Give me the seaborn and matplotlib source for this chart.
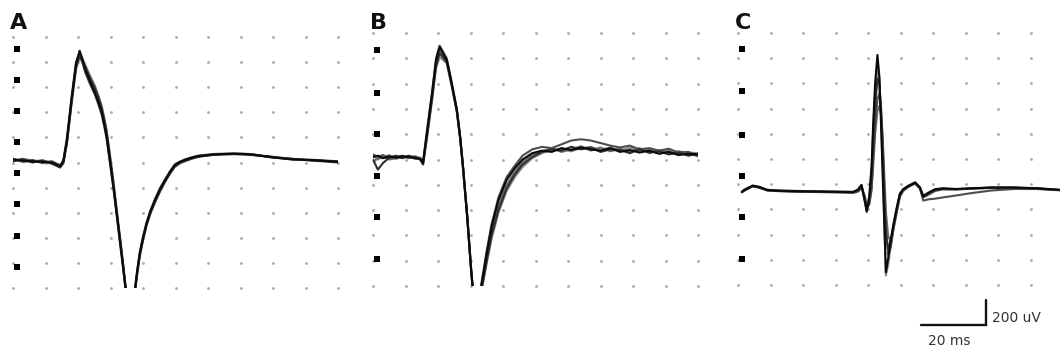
import numpy as np
import pandas as pd
import matplotlib
matplotlib.use("Agg")
import matplotlib.pyplot as plt
import seaborn as sns

sns.set_style("white")
plt.rcParams['font.family'] = ['DejaVu Sans']

# --- traces: time in ms, amplitude in uV ---
t_a = [0, 3, 6, 9, 12, 14.5, 15.5, 16.6, 18.1, 19.4, 20.5, 21.3, 22.2, 23.7, 25.2, 26.3,
       27.3, 28.1, 28.8, 29.8, 30.9, 31.9, 32.9, 33.9, 34.7, 35.6, 36.6, 37.5, 38.2, 39,
       40, 41.1, 42.3, 43.7, 45.2, 46.8, 48.3, 49.8, 51.5, 53, 55, 57, 59.5, 62, 65, 68,
       71, 74, 80, 86, 92, 100]
a1 = [25, 15, 10, 5, 0, -30, 10, 180, 520, 790, 890, 830, 740, 645, 556, 480, 396, 300,
      206, 20, -194, -406, -620, -834, -1020, -1150, -1150, -1020, -870, -727, -600, -487,
      -390, -300, -215, -140, -75, -20, 5, 22, 38, 50, 58, 65, 68, 70, 68, 62, 40, 25, 20, 5]
a2 = [10, 25, 0, 15, -10, -40, -5, 160, 500, 760, 850, 815, 760, 670, 590, 515, 430, 335,
      240, 50, -170, -390, -600, -820, -1010, -1140, -1160, -1030, -885, -740, -615, -495,
      -400, -310, -225, -150, -85, -30, 0, 15, 32, 45, 55, 62, 66, 68, 66, 60, 45, 28, 18, 8]
a3 = [30, 5, 20, -5, 10, -25, 20, 200, 540, 800, 870, 800, 720, 625, 540, 460, 380, 285,
      190, 0, -210, -420, -640, -850, -1030, -1160, -1140, -1010, -860, -715, -590, -475,
      -380, -290, -205, -135, -70, -15, 10, 25, 42, 55, 62, 68, 70, 72, 70, 65, 38, 30, 15, 0]
a4 = [15, 30, 15, 10, 5, -20, 5, 170, 510, 770, 860, 830, 780, 690, 610, 530, 450, 355,
      260, 70, -150, -370, -590, -810, -1000, -1130, -1150, -1040, -895, -750, -620, -500,
      -405, -320, -235, -155, -90, -35, -5, 10, 30, 48, 55, 60, 64, 66, 63, 58, 42, 22, 22, 10]
a5 = [20, 10, 5, 20, -5, -35, 0, 150, 480, 740, 840, 800, 750, 660, 575, 495, 410, 320,
      225, 35, -180, -400, -610, -830, -1015, -1145, -1155, -1025, -880, -735, -610, -490,
      -395, -305, -220, -145, -80, -25, 3, 18, 36, 52, 58, 64, 67, 70, 67, 63, 44, 26, 16, 6]

t_b = [0, 1.5, 3, 5, 7, 9, 11, 13, 14.5, 15.4, 16.6, 18.2, 19.4, 20.5, 22.7, 24.2, 25.8,
       26.8, 27.6, 28.3, 29, 29.6, 30.2, 30.8, 31.8, 32.8, 33.6, 35, 36.5, 38.6, 41.1, 43.6,
       46, 49, 52, 55, 58, 61, 64, 67, 70, 73, 76, 79, 82, 85, 88, 91, 94, 97, 100]
b1 = [20, 30, 10, 25, 15, 25, 20, 10, 5, -25, 210, 525, 786, 890, 786, 602, 391, 180, -30,
      -241, -452, -662, -873, -1050, -1150, -1080, -960, -741, -531, -320, -162, -70, 0, 50,
      70, 60, 90, 75, 95, 80, 70, 90, 60, 75, 55, 70, 45, 60, 35, 45, 40]
b2 = [0, -80, -30, 15, 30, 10, 30, 15, 0, -40, 180, 490, 740, 840, 770, 590, 380, 170, -40,
      -250, -460, -670, -880, -1050, -1160, -1100, -1000, -800, -600, -400, -230, -120, -40,
      20, 60, 80, 70, 100, 80, 95, 60, 80, 75, 50, 80, 55, 65, 40, 55, 30, 45]
b3 = [40, 20, 35, 10, 20, 30, 15, 25, 10, -15, 230, 540, 800, 900, 800, 615, 400, 190, -20,
      -230, -440, -650, -860, -1040, -1140, -1070, -940, -720, -510, -300, -140, -50, 30, 80,
      100, 90, 120, 150, 160, 150, 130, 110, 95, 110, 80, 90, 70, 85, 55, 60, 30]
b4 = [-20, 10, 25, 0, 10, 15, 25, 5, 15, -30, 190, 500, 760, 860, 780, 595, 385, 175, -35,
      -245, -455, -665, -875, -1055, -1155, -1090, -980, -770, -565, -360, -200, -100, -20,
      40, 65, 90, 60, 80, 105, 70, 95, 65, 85, 60, 90, 50, 75, 45, 65, 50, 25]
b5 = [30, 0, 20, 35, 5, 20, 10, 20, 0, -35, 170, 470, 720, 810, 760, 580, 375, 165, -45,
      -255, -465, -675, -885, -1060, -1165, -1110, -1010, -820, -625, -420, -250, -140, -60,
      10, 50, 75, 85, 65, 90, 100, 75, 95, 70, 95, 65, 80, 60, 70, 40, 55, 50]

t_c = [1.2, 2, 4.5, 6.5, 9, 13, 18, 24, 30, 35.5, 37, 38, 39.1, 39.6, 40.4, 41.1, 41.6, 42.2,
       42.9, 43.5, 44, 44.5, 45, 45.5, 46.2, 47, 47.8, 48.8, 49.8, 50.8, 52.4, 54.5, 56, 57,
       58.6, 60.6, 63, 67, 72, 78, 85, 92, 100]
c1 = [-262, -245, -212, -222, -246, -252, -255, -258, -260, -262, -240, -205, -346, -410,
      -294, -57, 286, 602, 826, 654, 286, -109, -504, -899, -790, -650, -531, -399, -280,
      -241, -215, -188, -228, -294, -267, -240, -232, -238, -232, -226, -226, -232, -246]
c2 = [-260, -248, -215, -225, -248, -254, -257, -260, -262, -265, -250, -215, -330, -420,
      -330, -150, 120, 420, 640, 600, 380, 50, -300, -600, -720, -640, -520, -390, -275,
      -240, -212, -185, -225, -300, -275, -248, -238, -240, -234, -228, -228, -234, -248]
c3 = [-265, -250, -218, -228, -250, -256, -260, -262, -265, -268, -258, -225, -300, -390,
      -360, -230, 0, 280, 470, 520, 420, 150, -200, -520, -760, -700, -560, -420, -295,
      -250, -220, -195, -235, -330, -320, -315, -305, -290, -270, -250, -238, -238, -250]
c4 = [-258, -242, -210, -220, -244, -250, -253, -256, -258, -260, -245, -210, -320, -400,
      -350, -250, -50, 200, 380, 420, 360, 180, -120, -420, -610, -660, -560, -430, -300,
      -255, -222, -192, -232, -305, -285, -255, -242, -242, -236, -230, -230, -236, -248]
c5 = [-264, -247, -214, -224, -247, -253, -256, -259, -261, -263, -245, -210, -350, -415,
      -300, -80, 230, 540, 720, 640, 330, -60, -480, -925, -840, -690, -550, -410, -290,
      -245, -218, -190, -230, -298, -270, -244, -236, -240, -233, -227, -227, -233, -247]

# black ruler squares at the left edge of each panel (uV)
marks_a = [902, 657, 410, 161, -86, -333, -584, -831]
marks_b = [865, 527, 198, -129, -458, -788]
marks_c = [871, 542, 190, -133, -463, -794]

panel_labels = ['A', 'B', 'C']

# scale bar (panel C units)
bar_ms = 20
bar_uv = 200


def long_table(t, traces):
    parts = [pd.DataFrame({'t': t, 'uV': v, 'trace': k}) for k, v in enumerate(traces)]
    return pd.concat(parts, ignore_index=True)


panels = [
    (long_table(t_a, [a1, a2, a3, a4, a5]), marks_a),
    (long_table(t_b, [b1, b2, b3, b4, b5]), marks_b),
    (long_table(t_c, [c1, c2, c3, c4, c5]), marks_c),
]

# axes boxes in figure fractions (left, bottom, width, height)
boxes = [
    [13 / 1060, 66 / 354, 325 / 1060, 251 / 354],
    [373 / 1060, 68 / 354, 325 / 1060, 253 / 354],
    [738 / 1060, 69 / 354, 325 / 1060, 252 / 354],
]
label_x = [10 / 1060, 370 / 1060, 735 / 1060]

# first trace darkest, drawn last so it sits on top
trace_colors = {0: '#0a0a0a', 1: '#2e2e2e', 2: '#4d4d4d', 3: '#6b6b6b', 4: '#888888'}

fig = plt.figure(figsize=(10.6, 3.54), dpi=100)

gx, gy = np.meshgrid(np.arange(0, 101, 10), np.arange(-1000, 1001, 200))
grid_pts = pd.DataFrame({'x': gx.ravel(), 'y': gy.ravel()})

axes = []
for (df, marks), box, lx, lab in zip(panels, boxes, label_x, panel_labels):
    ax = fig.add_axes(box)
    sns.scatterplot(data=grid_pts, x='x', y='y', ax=ax, color='#a8a8a8', s=4,
                    linewidth=0, zorder=1, clip_on=False, legend=False)
    sns.lineplot(data=df, x='t', y='uV', hue='trace', hue_order=[4, 3, 2, 1, 0],
                 palette=trace_colors, estimator=None, sort=False, lw=1.5,
                 legend=False, ax=ax, zorder=3)
    ax.scatter(np.full(len(marks), 1.3), marks, marker='s', s=20, color='black',
               zorder=4, clip_on=False, linewidths=0)
    ax.set_xlim(0, 100)
    ax.set_ylim(-1000, 1000)
    ax.set_axis_off()
    fig.text(lx, 1 - 29 / 354, lab, fontsize=16, fontweight='bold', va='baseline',
             color='#111111')
    axes.append(ax)

# scale bar under panel C
axc = axes[2]
x1 = 76.3
x0 = x1 - bar_ms
y0 = -1318
axc.plot([x0, x1, x1], [y0, y0, y0 + bar_uv], color='#111111', lw=1.7,
         clip_on=False, solid_joinstyle='miter')
axc.text(x1 + 1.9, y0 + 25, f'{bar_uv} uV', fontsize=10, color='#333333',
         va='baseline', ha='left')
axc.text(x0 + 8.8, y0 - 158, f'{bar_ms} ms', fontsize=10, color='#333333',
         va='baseline', ha='center')

fig.savefig('out.png', dpi=100)
